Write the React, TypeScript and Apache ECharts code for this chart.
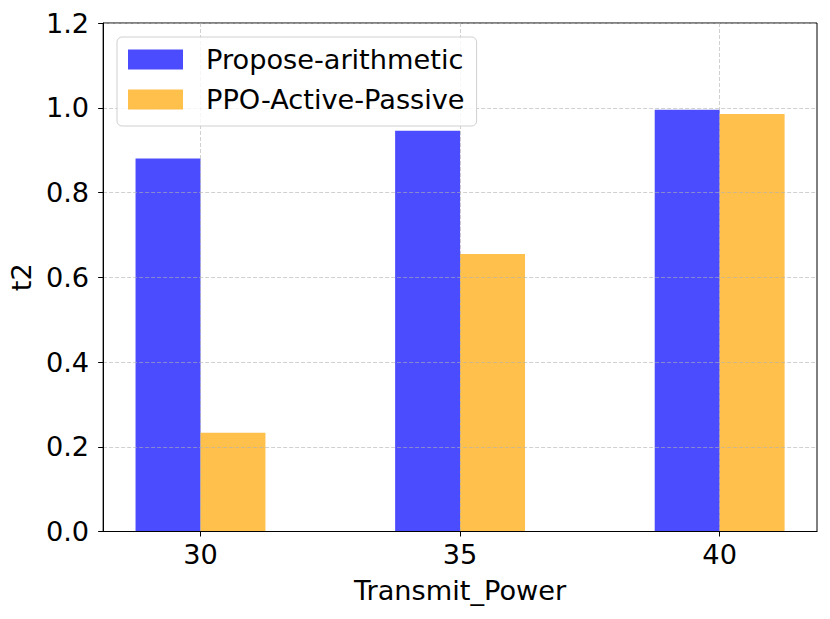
import React, { useEffect, useRef } from "react";
import * as echarts from "echarts";

const categories = ["30", "35", "40"];
const proposeArithmetic = [0.88, 0.946, 0.995];
const ppoActivePassive = [0.233, 0.655, 0.985];
const yTickLabels = ["0.0", "0.2", "0.4", "0.6", "0.8", "1.0", "1.2"];
const seriesNames = ["Propose-arithmetic", "PPO-Active-Passive"];

// x positions in units of 0.125 (bar width = 0.25), margin of 0.375 on each side
const SLOTS_PER_CAT = 8;
const LEAD = 3;
const slotCount = LEAD * 2 + SLOTS_PER_CAT * (categories.length - 1) + 1;
const slotKeys = Array.from({ length: slotCount }, (_, j) => "s" + j);
const slotLabel: Record<string, string> = {};
categories.forEach((c, i) => {
  slotLabel["s" + (LEAD + SLOTS_PER_CAT * i)] = c;
});

function slotData(values: number[], offset: number) {
  const arr: (number | null)[] = slotKeys.map(() => null);
  values.forEach((v, i) => {
    arr[LEAD + SLOTS_PER_CAT * i + offset] = v;
  });
  return arr;
}

const FONT = "DejaVu Sans";
const FS = 27.2;
const gridColor = "rgba(176,176,176,0.6)";

export default function App() {
  const ref = useRef<HTMLDivElement>(null);
  useEffect(() => {
    if (!ref.current) return;
    const chart = echarts.init(ref.current, undefined, { renderer: "svg" });
    const isMain = (_i: number, v: string) => slotLabel[v] !== undefined;
    chart.setOption({
      animation: false,
      backgroundColor: "#ffffff",
      grid: {
        left: 103,
        right: 13,
        top: 23,
        bottom: 87.5,
        containLabel: false,
        show: true,
        borderColor: "#000000",
        borderWidth: 1,
        backgroundColor: "transparent",
      },
      legend: {
        orient: "vertical",
        left: 117,
        top: 37,
        icon: "rect",
        itemWidth: 55,
        itemHeight: 20,
        itemGap: 13,
        padding: [9, 12, 13, 11],
        borderColor: "#d0d0d0",
        borderWidth: 1,
        borderRadius: 5,
        backgroundColor: "rgba(255,255,255,0.8)",
        data: seriesNames,
        textStyle: {
          fontFamily: FONT,
          fontSize: FS,
          color: "#000000",
          lineHeight: 27,
          padding: [0, 0, 0, 18],
        },
      },
      xAxis: {
        type: "category",
        data: slotKeys,
        boundaryGap: false,
        z: 3,
        name: "Transmit_Power",
        nameLocation: "middle",
        nameGap: 45,
        nameTextStyle: { fontFamily: FONT, fontSize: FS, color: "#000000" },
        axisLine: { show: true, lineStyle: { color: "#000000", width: 1 } },
        axisTick: {
          show: true,
          interval: isMain,
          length: 5,
          lineStyle: { color: "#000000", width: 1 },
        },
        axisLabel: {
          interval: 0,
          margin: 9,
          fontFamily: FONT,
          fontSize: FS,
          color: "#000000",
          formatter: (v: string) => slotLabel[v] || "",
        },
        splitLine: {
          show: true,
          interval: isMain,
          lineStyle: { color: gridColor, type: [4, 2], width: 1 },
        },
      },
      yAxis: {
        type: "value",
        min: 0,
        max: 1.2,
        interval: 0.2,
        z: 3,
        name: "t2",
        nameLocation: "middle",
        nameGap: 64,
        nameTextStyle: { fontFamily: FONT, fontSize: FS, color: "#000000" },
        axisLine: { show: true, lineStyle: { color: "#000000", width: 1 } },
        axisTick: { show: true, length: 5, lineStyle: { color: "#000000", width: 1 } },
        axisLabel: {
          margin: 14,
          fontFamily: FONT,
          fontSize: FS,
          color: "#000000",
          formatter: (v: number) => yTickLabels[Math.round(v / 0.2)] ?? v.toFixed(1),
        },
        splitLine: {
          show: true,
          lineStyle: { color: gridColor, type: [4, 2], width: 1 },
        },
      },
      series: [
        {
          name: seriesNames[0],
          type: "bar",
          data: slotData(proposeArithmetic, -1),
          barWidth: 65,
          barGap: "-100%",
          itemStyle: { color: "rgba(0,0,255,0.7)" },
        },
        {
          name: seriesNames[1],
          type: "bar",
          data: slotData(ppoActivePassive, 1),
          barWidth: 65,
          barGap: "-100%",
          itemStyle: { color: "rgba(255,165,0,0.7)" },
        },
      ],
    });
    return () => chart.dispose();
  }, []);
  return (
    <div
      ref={ref}
      style={{ position: "fixed", left: 0, top: 0, width: 830, height: 619, background: "#fff" }}
    />
  );
}
